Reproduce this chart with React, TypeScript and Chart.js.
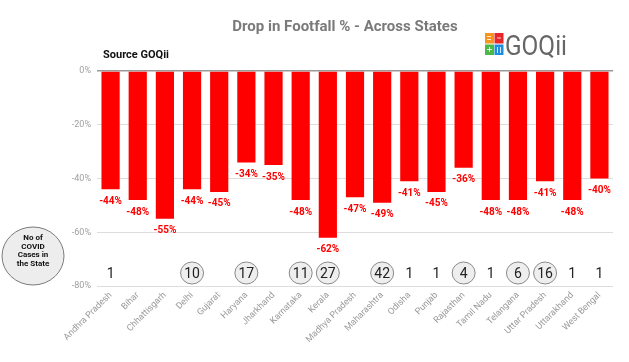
import React, { useEffect, useRef } from "react";
import { Chart, registerables } from "chart.js";

Chart.register(...registerables);

const states = [
  "Andhra Pradesh", "Bihar", "Chhattisgarh", "Delhi", "Gujarat", "Haryana", "Jharkhand",
  "Karnataka", "Kerala", "Madhya Pradesh", "Maharashtra", "Odisha", "Punjab", "Rajasthan",
  "Tamil Nadu", "Telangana", "Uttar Pradesh", "Uttarakhand", "West Bengal",
];
const footfallDrop = [-44, -48, -55, -44, -45, -34, -35, -48, -62, -47, -49, -41, -45, -36, -48, -48, -41, -48, -40];
const covidCases: (number | null)[] = [1, null, null, 10, null, 17, null, 11, 27, null, 42, 1, 1, 4, 1, 6, 16, 1, 1];
const yTicks = [0, -20, -40, -60, -80];
const titleText = "Drop in Footfall % - Across States";
const sourceText = "Source GOQii";
const casesNote = ["No of", "COVID", "Cases in", "the State"];

const FONT = "Roboto, 'Liberation Sans', Arial, sans-serif";

const overlayPlugin = {
  id: "overlay",
  afterDatasetsDraw(chart: any) {
    const ctx = chart.ctx as CanvasRenderingContext2D;
    const meta = chart.getDatasetMeta(0);
    const xScale = chart.scales.x;
    ctx.save();
    // value labels
    ctx.fillStyle = "#ff0000";
    ctx.font = `bold 10px ${FONT}`;
    ctx.textAlign = "center";
    ctx.textBaseline = "top";
    meta.data.forEach((bar: any, i: number) => {
      ctx.fillText(`${footfallDrop[i]}%`, bar.x, bar.y + 7);
    });
    // covid cases row
    const cy = 273;
    covidCases.forEach((v, i) => {
      if (v === null) return;
      const x = xScale.getPixelForValue(i);
      if (v > 1) {
        ctx.beginPath();
        ctx.ellipse(x, cy, 11.5, 11, 0, 0, Math.PI * 2);
        ctx.fillStyle = "#eeeeee";
        ctx.fill();
        ctx.strokeStyle = "#8a8a8a";
        ctx.lineWidth = 1;
        ctx.stroke();
      }
      ctx.fillStyle = "#222222";
      ctx.font = `14px ${FONT}`;
      ctx.textAlign = "center";
      ctx.textBaseline = "middle";
      ctx.fillText(String(v), x, cy + 1);
    });
    // left note ellipse
    ctx.beginPath();
    ctx.ellipse(33, 256, 31, 29, 0, 0, Math.PI * 2);
    ctx.fillStyle = "#ededed";
    ctx.fill();
    ctx.strokeStyle = "#7a7a7a";
    ctx.lineWidth = 1;
    ctx.stroke();
    ctx.fillStyle = "#111111";
    ctx.font = `bold 8px ${FONT}`;
    ctx.textAlign = "center";
    ctx.textBaseline = "middle";
    casesNote.forEach((t, k) => ctx.fillText(t, 33, 238 + k * 8.6));
    // title
    ctx.fillStyle = "#7a7a7a";
    ctx.font = `bold 15px ${FONT}`;
    ctx.textAlign = "center";
    ctx.textBaseline = "middle";
    ctx.fillText(titleText, 345, 27);
    // source
    ctx.fillStyle = "#111111";
    ctx.font = `bold 11px ${FONT}`;
    ctx.textAlign = "left";
    ctx.fillText(sourceText, 103, 55);
    // logo squares
    const sq = [
      { x: 485, y: 33, c: "#f7941d" },
      { x: 494.5, y: 33, c: "#e8262a" },
      { x: 485, y: 44.5, c: "#4cb848" },
      { x: 494.5, y: 44.5, c: "#1e8fe0" },
    ];
    sq.forEach((s) => {
      ctx.fillStyle = s.c;
      ctx.fillRect(s.x, s.y, 9, 10.5);
    });
    ctx.strokeStyle = "rgba(255,255,255,0.8)";
    ctx.lineWidth = 1;
    ctx.beginPath();
    ctx.moveTo(487, 36.5); ctx.lineTo(491, 36.5);
    ctx.moveTo(487, 39.5); ctx.lineTo(491, 39.5);
    ctx.moveTo(497, 38); ctx.lineTo(501, 38);
    ctx.moveTo(487, 49.5); ctx.lineTo(492, 49.5);
    ctx.moveTo(489.5, 47); ctx.lineTo(489.5, 52);
    ctx.moveTo(497.5, 47); ctx.lineTo(497.5, 53);
    ctx.moveTo(500.5, 47); ctx.lineTo(500.5, 53);
    ctx.stroke();
    ctx.fillStyle = "#666666";
    ctx.font = `28px ${FONT}`;
    ctx.textAlign = "left";
    ctx.textBaseline = "alphabetic";
    const w = ctx.measureText("GOQii").width;
    ctx.save();
    ctx.translate(505, 55);
    ctx.scale(62 / w, 1);
    ctx.fillText("GOQii", 0, 0);
    ctx.restore();
    ctx.restore();
  },
};

export default function App() {
  const ref = useRef<HTMLCanvasElement>(null);
  useEffect(() => {
    if (!ref.current) return;
    const chart = new Chart(ref.current, {
      type: "bar",
      data: {
        labels: states,
        datasets: [
          {
            data: footfallDrop,
            backgroundColor: "#ff0000",
            borderWidth: 0,
            categoryPercentage: 1,
            barPercentage: 0.67,
          },
        ],
      },
      options: {
        animation: false,
        responsive: false,
        maintainAspectRatio: false,
        layout: { padding: { top: 71, right: 16, left: 0, bottom: 0 } },
        plugins: {
          legend: { display: false },
          tooltip: { enabled: false },
          title: { display: false },
        },
        scales: {
          x: {
            grid: { display: false, drawTicks: false },
            border: { display: false },
            ticks: {
              color: "#9a9a9a",
              font: { size: 9, family: FONT },
              minRotation: 45,
              maxRotation: 45,
              padding: 4,
              autoSkip: false,
            },
            afterFit: (s: any) => {
              s.height = 76;
            },
          },
          y: {
            min: -80,
            max: 0,
            afterBuildTicks: (s: any) => {
              s.ticks = yTicks.map((v) => ({ value: v }));
            },
            grid: {
              color: (c: any) => (c.tick && c.tick.value === 0 ? "#999999" : "#dddddd"),
              lineWidth: (c: any) => (c.tick && c.tick.value === 0 ? 1.5 : 1),
              drawTicks: false,
            },
            border: { display: false },
            ticks: {
              color: "#a0a0a0",
              font: { size: 9, family: FONT },
              padding: 6,
              callback: (v: any) => `${v}%`,
            },
            afterFit: (s: any) => {
              s.width = 97;
            },
          },
        },
      },
      plugins: [overlayPlugin],
    });
    return () => chart.destroy();
  }, []);
  return (
    <div style={{ position: "fixed", left: 0, top: 0, width: 629, height: 362, background: "#fff" }}>
      <canvas ref={ref} width={629} height={362} style={{ width: 629, height: 362 }} />
    </div>
  );
}
